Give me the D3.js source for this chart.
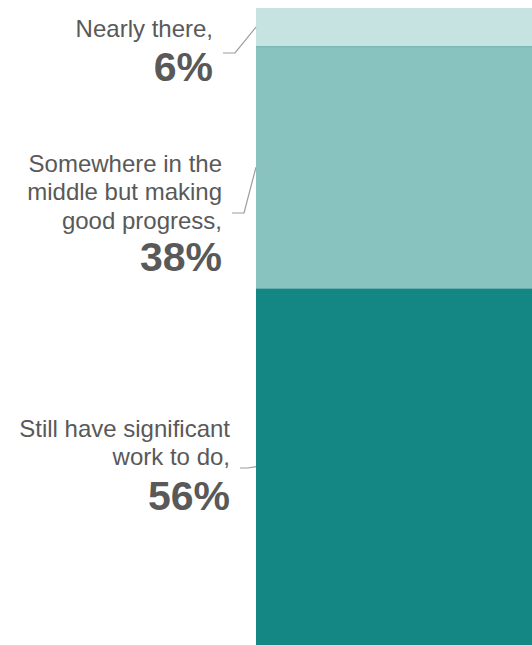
<!DOCTYPE html>
<html>
<head>
<meta charset="utf-8">
<script src="https://cdn.jsdelivr.net/npm/d3@7"></script>
<style>
  html, body { margin: 0; padding: 0; background: #fff; }
  svg { display: block; }
  text { font-family: Arial, "Liberation Sans", Helvetica, sans-serif; fill: #595959; }
</style>
</head>
<body>
<svg id="chart" width="532" height="646"></svg>
<script>
// Share of respondents by stage, stacked bottom to top
const categories = ["Still have significant work to do", "Somewhere in the middle but making good progress", "Nearly there"];
const values = [56, 38, 6];
const labelLines = [
  ["Still have significant", "work to do,"],
  ["Somewhere in the", "middle but making", "good progress,"],
  ["Nearly there,"]
];
const colors = ["#148784", "#88c3c0", "#c6e2e1"];

// Label placement (text block right edge, first baseline, leader elbow)
const labelLayout = [
  { right: 230, top: 437, pctGap: 45, leaderY: 468, kneeX: 248 },
  { right: 222, top: 172, pctGap: 42.5, leaderY: 213, kneeX: 244 },
  { right: 213, top: 37, pctGap: 44, leaderY: 53, kneeX: 235 }
];

const width = 532, height = 646;
const barLeft = 256, barRight = 532, barTop = 8, barBottom = 645;
const lineHeight = 28.3;

const svg = d3.select("#chart");

const y = d3.scaleLinear().domain([0, d3.sum(values)]).range([barBottom, barTop]);
const x = d3.scaleBand().domain(["all"]).range([barLeft, barRight]).padding(0);

// cumulative stack
let acc = 0;
const segs = values.map((v, i) => {
  const s = { i, cat: categories[i], v, y0: acc, y1: acc + v };
  acc += v;
  return s;
});

// baseline rule
svg.append("line")
  .attr("x1", 0).attr("x2", width)
  .attr("y1", barBottom + 0.5).attr("y2", barBottom + 0.5)
  .attr("stroke", "#d9d9d9").attr("stroke-width", 1);

svg.append("g").selectAll("rect")
  .data(segs)
  .join("rect")
  .attr("x", x("all"))
  .attr("width", x.bandwidth())
  .attr("y", d => y(d.y1))
  .attr("height", d => y(d.y0) - y(d.y1))
  .attr("fill", d => colors[d.i]);

// thin edge on top of the middle segment
svg.append("line")
  .attr("x1", x("all")).attr("x2", x("all") + x.bandwidth())
  .attr("y1", y(segs[1].y1) + 0.5).attr("y2", y(segs[1].y1) + 0.5)
  .attr("stroke", "#6fb3af").attr("stroke-width", 1);

// leader lines from each segment's middle to its label
svg.append("g").selectAll("polyline")
  .data(segs)
  .join("polyline")
  .attr("fill", "none")
  .attr("stroke", "#9c9c9c")
  .attr("stroke-width", 1.2)
  .attr("points", d => {
    const L = labelLayout[d.i];
    const cy = y((d.y0 + d.y1) / 2);
    return [[barLeft, cy], [L.kneeX, L.leaderY], [L.right + 10, L.leaderY]].map(p => p.join(",")).join(" ");
  });

// labels
const labels = svg.append("g").selectAll("g")
  .data(segs)
  .join("g");

labels.each(function(d) {
  const g = d3.select(this);
  const L = labelLayout[d.i];
  const lines = labelLines[d.i];
  lines.forEach((t, k) => {
    g.append("text")
      .attr("x", L.right)
      .attr("y", L.top + k * lineHeight)
      .attr("text-anchor", "end")
      .attr("font-size", 24)
      .text(t);
  });
  g.append("text")
    .attr("x", L.right)
    .attr("y", L.top + (lines.length - 1) * lineHeight + L.pctGap)
    .attr("text-anchor", "end")
    .attr("font-size", 41)
    .attr("font-weight", "bold")
    .text(d.v + "%");
});
</script>
</body>
</html>
